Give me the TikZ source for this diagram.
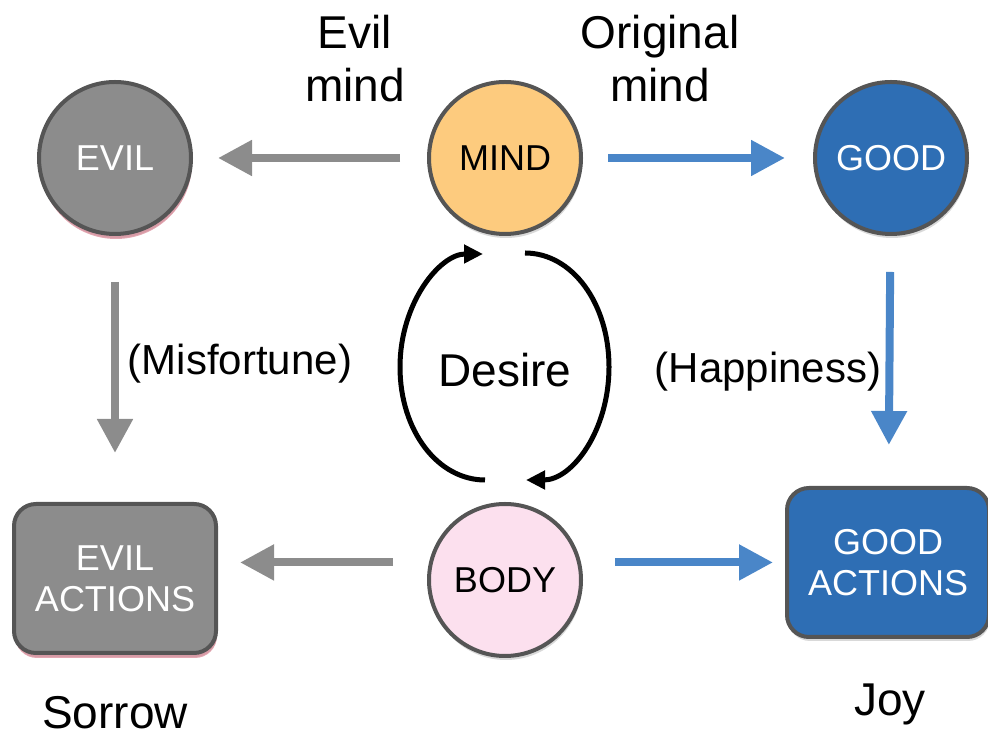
\documentclass[tikz,border=0pt]{standalone}
\usepackage{fontspec}
\setmainfont{Liberation Sans}
\usetikzlibrary{arrows.meta,shadows}

\definecolor{mindfill}{RGB}{253,203,126}
\definecolor{goodfill}{RGB}{46,110,180}
\definecolor{evilfill}{RGB}{140,140,140}
\definecolor{bodyfill}{RGB}{252,224,238}
\definecolor{edgegray}{RGB}{85,85,85}
\definecolor{arrowgray}{RGB}{140,140,140}
\definecolor{arrowblue}{RGB}{74,134,200}
\definecolor{evilshadow}{RGB}{215,130,145}

\begin{document}
\begin{tikzpicture}[x=1pt,y=1pt]
        \tikzstyle{state} = [circle, minimum size=152pt, inner sep=0pt, line width=4pt, draw=edgegray, text centered, font=\fontsize{36}{41}\selectfont, drop shadow={opacity=0.3, shadow xshift=1pt, shadow yshift=-4pt}]
        \tikzstyle{action} = [rectangle, rounded corners=22pt, minimum width=202pt, minimum height=149pt, line width=4pt, draw=edgegray, align=center, font=\fontsize{36}{41}\selectfont, drop shadow={opacity=0.3, shadow xshift=1pt, shadow yshift=-4pt}]
        \tikzstyle{evilshade} = [drop shadow={fill=evilshadow, opacity=0.7, shadow xshift=1pt, shadow yshift=-5pt}]
        \tikzstyle{bigtext} = [font=\fontsize{46}{53}\selectfont, align=center, inner sep=1pt]
        \tikzstyle{smalltext} = [font=\fontsize{42}{48}\selectfont, inner sep=1pt]
        \tikzstyle{grayarrow} = [line width=8pt, draw=arrowgray, -{Triangle[length=34pt, width=34pt]}]
        \tikzstyle{bluearrow} = [line width=8pt, draw=arrowblue, -{Triangle[length=34pt, width=34pt]}]
        \tikzstyle{loop} = [line width=5pt, -{Triangle[length=19pt, width=18pt]}]

        \useasboundingbox (0,0) rectangle (988,738);

        \node (mind) [state, fill=mindfill] at (505,580) {MIND};
        \node (evil) [state, fill=evilfill, text=white, evilshade, left of=mind, node distance=390pt] {EVIL};
        \node (good) [state, fill=goodfill, text=white, right of=mind, node distance=386pt] {GOOD};
        \node (body) [state, fill=bodyfill, below of=mind, node distance=422pt] {BODY};
        \node (evilactions) [action, fill=evilfill, text=white, evilshade, below of=evil, node distance=420.5pt] {EVIL\\ACTIONS};
        \node (goodactions) [action, fill=goodfill, text=white, below of=good, node distance=404.5pt, xshift=-3pt] {GOOD\\ACTIONS};

        \node (evilmind) [bigtext] at (355,679) {Evil\\mind};
        \node (originalmind) [bigtext] at (660,679) {Original\\mind};
        \node (desire) [bigtext, anchor=base] at (505,351) {Desire};
        \node (misfortune) [smalltext, anchor=base] at (240,363) {(Misfortune)};
        \node (happiness) [smalltext, anchor=base] at (768,355) {(Happiness)};
        \node (sorrow) [bigtext, anchor=base] at (115,9) {Sorrow};
        \node (joy) [bigtext, anchor=base] at (890,22) {Joy};

        \coordinate (loopbottomleft) at (485,258);
        \coordinate (looptopleft) at (483,484);
        \coordinate (looptopright) at (525,485);
        \coordinate (loopbottomright) at (526,258);

        \draw [grayarrow, shorten <=27pt, shorten >=25pt] (mind) -- (evil);
        \draw [bluearrow, shorten <=25pt, shorten >=28pt] (mind) -- (good);
        \draw [grayarrow, shorten <=46pt, shorten >=49pt] (evil) -- (evilactions);
        \draw [bluearrow, shorten <=36pt, shorten >=41pt] (good) -- (goodactions);
        \draw [grayarrow, shorten <=36pt, shorten >=22pt] (body.167) -- (body.167 -| evilactions.east);
        \draw [bluearrow, shorten <=34pt, shorten >=12pt] (body.13) -- (body.13 -| goodactions.west);

        \draw [loop] (loopbottomleft) .. controls (438,258) and (400,307) .. (400,371) .. controls (400,435) and (440,484) .. (looptopleft);
        \draw [loop] (looptopright) .. controls (572,485) and (609,435) .. (609,371) .. controls (609,307) and (572,258) .. (loopbottomright);
    \end{tikzpicture}
\end{document}
